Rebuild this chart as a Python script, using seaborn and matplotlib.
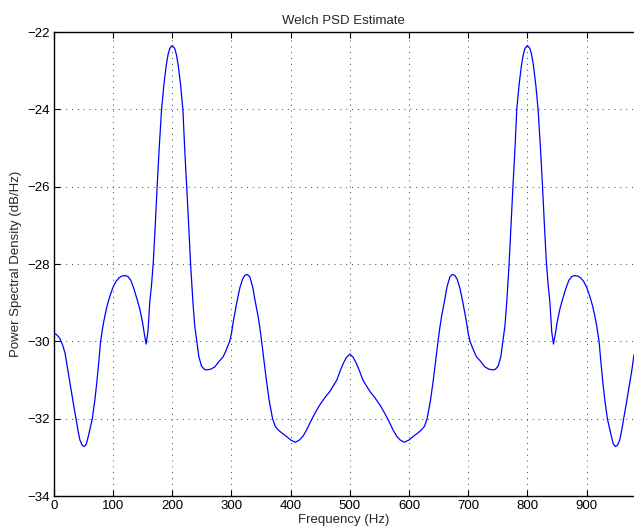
import matplotlib
matplotlib.use("Agg")
from matplotlib import pyplot as plt
import pandas as pd
import seaborn as sns

sns.set_theme(style="ticks")
plt.rcParams['font.family'] = ['Liberation Sans', 'DejaVu Sans']

# frequency (Hz) and PSD (dB/Hz)
freq_left = [0, 5, 10, 15, 19, 24, 30, 34, 37.5, 41, 44, 48, 51.5, 55, 58, 62, 65, 69,
             72.5, 76, 79, 83, 86.5, 90, 95, 100, 105, 110, 115, 120, 125, 130, 135,
             140, 145, 150, 153, 156, 159, 162, 165, 168, 171, 174.5, 178, 182, 186,
             190, 193, 196, 200, 204, 207, 210, 214, 218, 221, 224.5, 228, 231, 235,
             238, 241.5, 245, 249.5, 254, 258, 265, 272, 279, 286, 290, 294, 297, 300,
             303, 306, 309, 314, 319, 323, 327, 331, 336, 340, 345, 348, 351, 355, 359,
             364, 369.5, 374, 379, 386, 393, 400, 408, 415, 421, 427, 433, 438, 444,
             449, 458, 466, 472, 478, 484, 489, 494, 500]
psd_left = [-29.79, -29.83, -29.92, -30.10, -30.31, -30.78, -31.33, -31.70, -32.00,
            -32.32, -32.55, -32.69, -32.72, -32.65, -32.47, -32.20, -32.00, -31.55,
            -31.08, -30.52, -30.00, -29.60, -29.32, -29.08, -28.82, -28.60, -28.45,
            -28.36, -28.31, -28.30, -28.32, -28.42, -28.63, -28.88, -29.15, -29.52,
            -29.82, -30.07, -29.75, -29.00, -28.55, -27.95, -27.10, -26.00, -25.00,
            -24.00, -23.35, -22.85, -22.58, -22.42, -22.35, -22.42, -22.58, -22.85,
            -23.35, -24.00, -25.00, -26.00, -27.05, -28.00, -29.00, -29.60, -30.00,
            -30.40, -30.64, -30.72, -30.74, -30.72, -30.66, -30.52, -30.40, -30.27,
            -30.12, -30.00, -29.80, -29.50, -29.25, -29.00, -28.63, -28.38, -28.29,
            -28.27, -28.33, -28.60, -28.95, -29.35, -29.65, -30.00, -30.50, -31.00,
            -31.55, -32.00, -32.20, -32.29, -32.38, -32.46, -32.55, -32.61, -32.55,
            -32.45, -32.29, -32.10, -31.95, -31.78, -31.65, -31.45, -31.30, -31.15,
            -31.00, -30.75, -30.57, -30.42, -30.33]
freq_right = [506, 511, 516, 522, 528, 534, 542, 551, 556, 562, 567, 573, 579, 585,
              592, 600, 607, 614, 621, 626, 630.5, 636, 641, 645, 649, 652, 655, 660,
              664, 669, 673, 677, 681, 686, 691, 694, 697, 700, 703, 706, 710, 714,
              721, 728, 735, 742, 746, 750.5, 755, 758.5, 762, 765, 769, 772, 775.5,
              779, 782, 786, 790, 793, 796, 800, 804, 807, 810, 814, 818, 822, 825.5,
              829, 832, 835, 838, 841, 844, 847, 850, 855, 860, 865, 870, 875, 880,
              885, 890, 895, 900, 905, 910, 913.5, 917, 921, 924, 927.5, 931, 935,
              938, 942, 945, 948.5, 952, 956, 959, 962.5, 966, 970, 976, 980]
psd_right = [-30.42, -30.57, -30.75, -31.00, -31.15, -31.30, -31.45, -31.65, -31.78,
             -31.95, -32.10, -32.29, -32.45, -32.55, -32.61, -32.55, -32.46, -32.38,
             -32.29, -32.20, -32.00, -31.55, -31.00, -30.50, -30.00, -29.65, -29.35,
             -28.95, -28.60, -28.33, -28.27, -28.29, -28.38, -28.63, -29.00, -29.25,
             -29.50, -29.80, -30.00, -30.12, -30.27, -30.40, -30.52, -30.66, -30.72,
             -30.74, -30.72, -30.64, -30.40, -30.00, -29.60, -29.00, -28.00, -27.05,
             -26.00, -25.00, -24.00, -23.35, -22.85, -22.58, -22.42, -22.35, -22.42,
             -22.58, -22.85, -23.35, -24.00, -25.00, -26.00, -27.10, -27.95, -28.55,
             -29.00, -29.75, -30.07, -29.82, -29.52, -29.15, -28.88, -28.63, -28.42,
             -28.32, -28.30, -28.31, -28.36, -28.45, -28.60, -28.82, -29.08, -29.32,
             -29.60, -30.00, -30.52, -31.08, -31.55, -32.00, -32.20, -32.47, -32.65,
             -32.72, -32.69, -32.55, -32.32, -32.00, -31.70, -31.33, -30.78, -30.35]

x_ticks = [0, 100, 200, 300, 400, 500, 600, 700, 800, 900]
y_ticks = [-34, -32, -30, -28, -26, -24, -22]

df = pd.DataFrame({'Frequency': freq_left + freq_right,
                   'PSD': psd_left + psd_right})

fig = plt.figure(figsize=(6.34, 5.31), dpi=100)
ax = fig.add_axes([0.0849, 0.0659, 0.9151, 0.8738])
sns.lineplot(data=df, x='Frequency', y='PSD', ax=ax, color='#0000ff',
             linewidth=0.9, sort=False, estimator=None)

ax.set_xlim(0, 980)
ax.set_ylim(-34, -22)
ax.set_xticks(x_ticks)
ax.set_yticks(y_ticks)
ax.grid(True, color='0.25', linestyle=(0, (1, 5)), linewidth=0.7)
ax.tick_params(direction='in', length=4, width=0.8, top=True, right=False,
               labelsize=9.5, colors='black', pad=3)
for side in ['left', 'bottom', 'top']:
    ax.spines[side].set_linewidth(1.0)
    ax.spines[side].set_color('black')
ax.spines['right'].set_visible(False)

ax.set_title('Welch PSD Estimate', fontsize=9.5, pad=6)
ax.set_xlabel('Frequency (Hz)', fontsize=9.5, labelpad=1)
ax.set_ylabel('Power Spectral Density (dB/Hz)', fontsize=9.5, labelpad=4)

fig.savefig('out.png', dpi=100)
